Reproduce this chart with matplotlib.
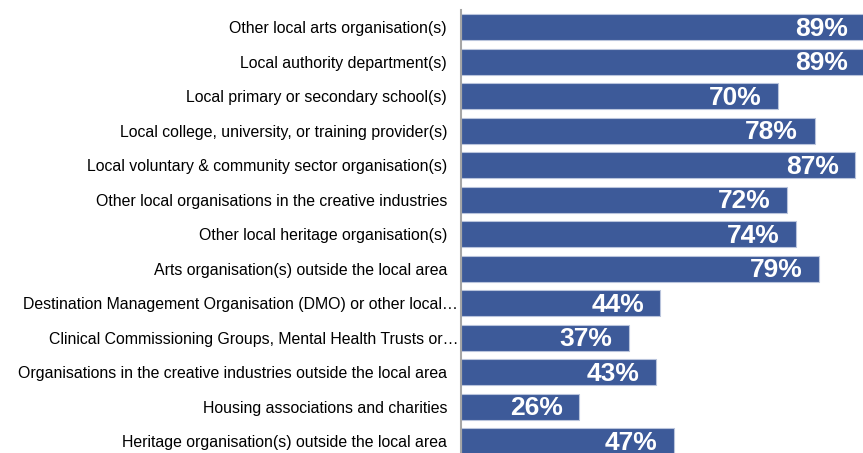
import matplotlib.pyplot as plt
import matplotlib.transforms as mtransforms

categories = [
    "Other local arts organisation(s)",
    "Local authority department(s)",
    "Local primary or secondary school(s)",
    "Local college, university, or training provider(s)",
    "Local voluntary & community sector organisation(s)",
    "Other local organisations in the creative industries",
    "Other local heritage organisation(s)",
    "Arts organisation(s) outside the local area",
    "Destination Management Organisation (DMO) or other local\u2026",
    "Clinical Commissioning Groups, Mental Health Trusts or\u2026",
    "Organisations in the creative industries outside the local area",
    "Housing associations and charities",
    "Heritage organisation(s) outside the local area",
]
values = [89, 89, 70, 78, 87, 72, 74, 79, 44, 37, 43, 26, 47]
truncated = [8, 9]  # these labels were cut off and sit closer to the axis

plt.rcParams['font.family'] = ['Liberation Sans', 'DejaVu Sans']

W, H = 863, 453
fig = plt.figure(figsize=(W / 100, H / 100), dpi=100)
# axes spans beyond the bottom edge so the last bar is cut, as in the reference
ax = fig.add_axes([461 / W, -5.5 / H, 1 - 461 / W, 448.5 / H])

bar_color = '#3d5a99'
y = range(len(categories))
ax.barh(y, values, height=0.75, color=bar_color, edgecolor='#b9c4dc', linewidth=0.8)

for i, v in enumerate(values):
    ax.text(v - 3.6, i + 0.04, f"{v}%", ha='right', va='center',
            color='white', fontsize=19, fontweight='bold')

ax.set_xlim(0, 88.7)
ax.set_ylim(len(categories) - 0.5, -0.5)
ax.set_yticks(list(y))
ax.set_yticklabels(categories, fontsize=11.4)
ax.tick_params(axis='y', length=0, pad=10)
ax.set_xticks([])

shift = mtransforms.ScaledTranslation(11 / 100, 0, fig.dpi_scale_trans)
for i, lab in enumerate(ax.get_yticklabels()):
    if i in truncated:
        lab.set_transform(lab.get_transform() + shift)

for side in ['top', 'right', 'bottom']:
    ax.spines[side].set_visible(False)
ax.spines['left'].set_color('#a6a6a6')
ax.spines['left'].set_linewidth(1.5)

fig.savefig('out.png', dpi=100)
